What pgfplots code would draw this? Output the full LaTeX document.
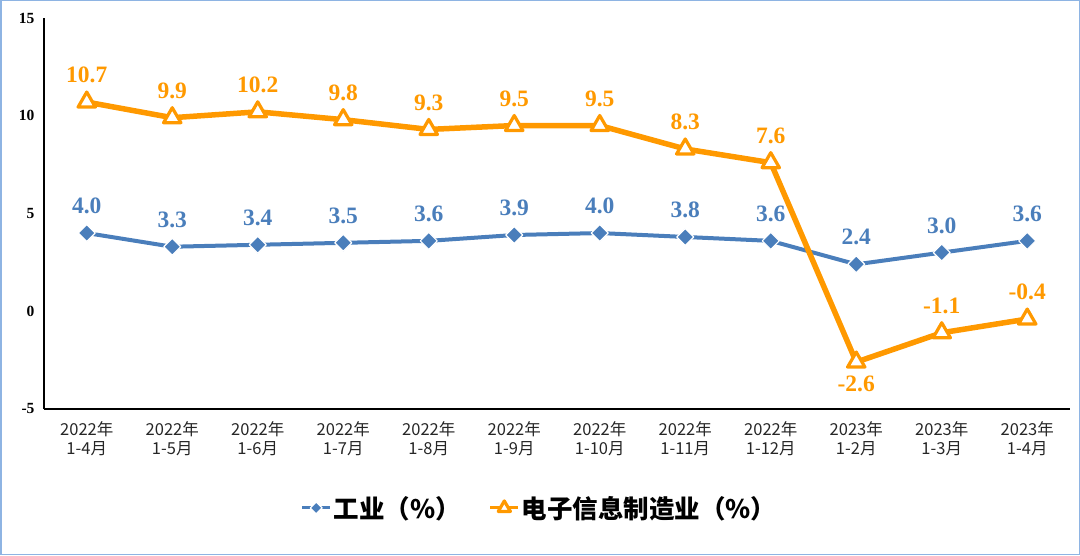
\documentclass[border=0pt]{standalone}
\usepackage{pgfplots}
\pgfplotsset{compat=1.18}
\usepackage{pgfplotstable}
\usepackage{fontspec}
\setmainfont{Liberation Serif}
\newfontfamily\cjk{Noto Sans CJK SC}
\definecolor{cblue}{HTML}{4A7EBB}
\definecolor{corange}{HTML}{FF9900}
\definecolor{cborder}{HTML}{8EB4E3}

\pgfplotstableread{
x gy gdy ey edy
0 4.0 27 10.7 27
1 3.3 27 9.9 27
2 3.4 27 10.2 27
3 3.5 27 9.8 27
4 3.6 27 9.3 27
5 3.9 27 9.5 27
6 4.0 27 9.5 27
7 3.8 27 8.3 27
8 3.6 27 7.6 27
9 2.4 27 -2.6 -22
10 3.0 27 -1.1 27
11 3.6 27 -0.4 27
}\data

\begin{document}
\begin{tikzpicture}
\path[use as bounding box] (0pt,0pt) rectangle (1080pt,555pt);
\draw[cborder, line width=1.5pt] (0.75pt,0.75pt) rectangle (1079.25pt,554.25pt);
\begin{axis}[
  at={(44pt,146pt)}, anchor=south west,
  scale only axis, width=1026pt, height=391pt,
  xmin=-0.5, xmax=11.5, ymin=-5, ymax=15,
  axis lines*=left,
  axis line style={black, line width=1.2pt},
  major tick length=0pt,
  clip=false,
  /pgf/number format/assume math mode=true,
  ytick={-5,0,5,10,15},
  yticklabel style={font=\bfseries\fontsize{15.5}{18}\selectfont, xshift=-6pt},
  xtick={0,...,11},
  xticklabels={{2022年\\1-4月},{2022年\\1-5月},{2022年\\1-6月},{2022年\\1-7月},{2022年\\1-8月},{2022年\\1-9月},{2022年\\1-10月},{2022年\\1-11月},{2022年\\1-12月},{2023年\\1-2月},{2023年\\1-3月},{2023年\\1-4月}},
  xticklabel style={font=\cjk\fontsize{16.5}{19.5}\selectfont, align=center, text=black!85, yshift=-9pt},
  legend style={at={(0.483,-0.253)}, anchor=center, draw=none, fill=none,
    legend columns=2, font=\cjk\bfseries\fontsize{25.5}{28}\selectfont,
    /tikz/every even column/.append style={column sep=26pt}},
  legend image code/.code={\draw[mark repeat=2,mark phase=2, line width=3pt, /tikz/every mark/.append style={scale=0.7}] plot coordinates {(0pt,0pt)(14pt,0pt)(28pt,0pt)};},
]
\addplot[cblue, line width=4pt, line join=round,
  mark=square*, mark options={rotate=45, mark size=6pt, solid, fill=cblue, draw=white, line width=1.2pt},
  point meta=explicit,
  visualization depends on={\thisrow{gdy} \as \dy},
  nodes near coords={\pgfmathprintnumber[fixed,fixed zerofill,precision=1]{\pgfplotspointmeta}},
  every node near coord/.style={anchor=center, yshift=\dy pt, font=\bfseries\fontsize{23.5}{26}\selectfont, text=cblue},
] table[x=x, y=gy, meta=gy]{\data};
\addlegendentry{工业（\%）}
\addplot[corange, line width=5.5pt, line join=round,
  mark=triangle*, mark options={mark size=10pt, solid, fill=white, draw=corange, line width=3.2pt},
  point meta=explicit,
  visualization depends on={\thisrow{edy} \as \dy},
  nodes near coords={\pgfmathprintnumber[fixed,fixed zerofill,precision=1]{\pgfplotspointmeta}},
  every node near coord/.style={anchor=center, yshift=\dy pt, font=\bfseries\fontsize{23.5}{26}\selectfont, text=corange},
] table[x=x, y=ey, meta=ey]{\data};
\addlegendentry{电子信息制造业（\%）}
\end{axis}
\end{tikzpicture}
\end{document}
